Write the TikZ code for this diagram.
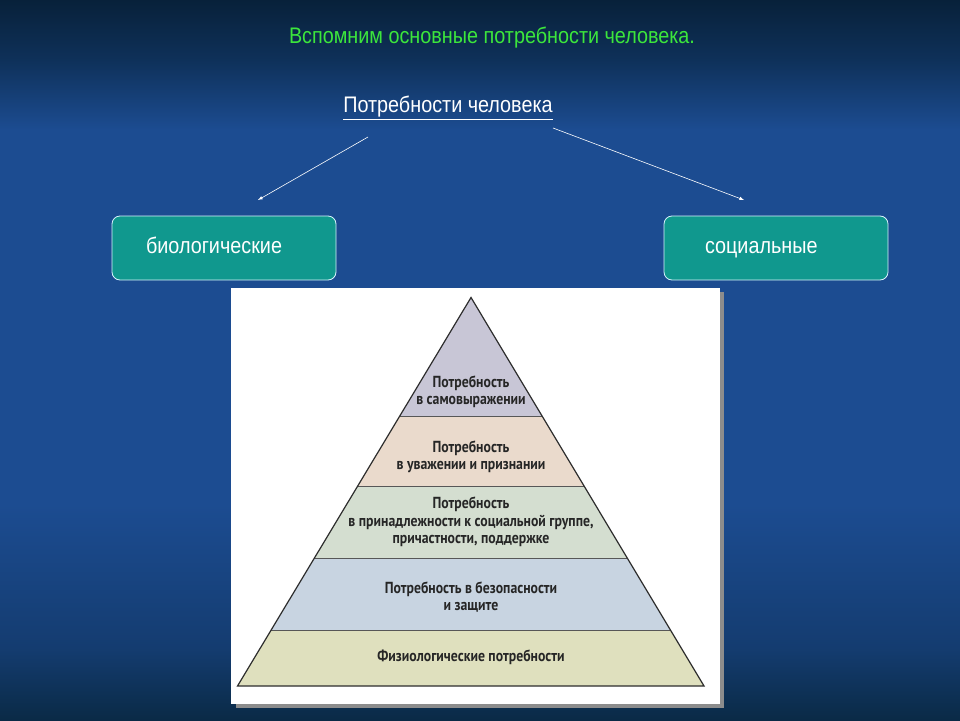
\documentclass[tikz,border=0pt]{standalone}
\usepackage{fontspec}
\setmainfont{Liberation Sans}
\newfontfamily\slidefont[FakeStretch=0.88]{Liberation Sans}
\newfontfamily\pyrfont[FakeStretch=0.86]{PT Sans}
\usetikzlibrary{shapes,arrows,positioning,calc}
\definecolor{bgtop}{RGB}{8, 33, 58}
\definecolor{bgtop2}{RGB}{14, 48, 88}
\definecolor{bgblue}{RGB}{28, 76, 145}
\definecolor{bgbot2}{RGB}{20, 60, 112}
\definecolor{bgbot}{RGB}{10, 42, 70}
\definecolor{titlegreen}{RGB}{60, 230, 60}
\definecolor{teal}{RGB}{16, 152, 142}
\definecolor{lay1}{RGB}{200, 198, 214}
\definecolor{lay2}{RGB}{234, 218, 204}
\definecolor{lay3}{RGB}{212, 222, 208}
\definecolor{lay4}{RGB}{200, 212, 225}
\definecolor{lay5}{RGB}{223, 224, 190}
\definecolor{pyrline}{RGB}{45, 45, 45}
\pgfdeclareverticalshading{slidebg}{100bp}{color(0bp)=(bgbot); color(25bp)=(bgbot); color(30bp)=(bgbot2); color(40bp)=(bgblue); color(66bp)=(bgblue); color(71bp)=(bgtop2); color(75bp)=(bgtop); color(100bp)=(bgtop)}
\tikzstyle{headline} = [text=titlegreen, font=\slidefont\fontsize{22.5}{26}\selectfont, inner sep=0pt]
\tikzstyle{topic} = [text=white, font=\slidefont\fontsize{22.5}{26}\selectfont, inner sep=0pt]
\tikzstyle{kind} = [rectangle, rounded corners=8pt, draw=white!85!cyan, line width=0.8pt, fill=teal, text=white, font=\slidefont\fontsize{22.5}{26}\selectfont, align=left, minimum width=224pt, minimum height=64pt, text height=15pt, text depth=5pt]
\tikzstyle{level} = [text=black!85, font=\pyrfont\bfseries\fontsize{16}{17.5}\selectfont, align=center, inner sep=0pt]
\tikzstyle{tedge}  = [draw, white, line width=0.6pt, >=latex, ->]

\begin{document}
\begin{tikzpicture}[x=1pt, y=-1pt]

% background =============================
\shade[shading=slidebg] (0,0) rectangle (960,720);
\useasboundingbox (0,0) rectangle (960,720);

% titles
\node[headline] (head) at (492,38) {Вспомним основные потребности человека.};
\node[topic] (needs) at (448,108) {\underline{Потребности человека}};

% two kinds
\node[kind, text width=156pt, inner xsep=34pt] (bio) at (224,248) {биологические};
\node[kind, text width=142pt, inner xsep=41pt] (soc) at (776,248) {социальные};

\coordinate (bio tip) at (258,200);
\coordinate (soc tip) at (744,200);
\coordinate (bio start) at (368,137);
\coordinate (soc start) at (553,128);

% panel with pyramid =====================
\fill[black!45] (236,292) rectangle (724,708);
\fill[white] (231,288) rectangle (720,704);

\coordinate (apex) at (471,297.5);
\coordinate (bl) at (237.5,686);
\coordinate (br) at (704,686);
\foreach \t [count=\i] in {0.307,0.487,0.671,0.858} {
  \coordinate (l\i) at ($(apex)!\t!(bl)$);
  \coordinate (r\i) at ($(apex)!\t!(br)$);
}
\fill[lay1] (apex) -- (l1) -- (r1) -- cycle;
\fill[lay2] (l1) -- (l2) -- (r2) -- (r1) -- cycle;
\fill[lay3] (l2) -- (l3) -- (r3) -- (r2) -- cycle;
\fill[lay4] (l3) -- (l4) -- (r4) -- (r3) -- cycle;
\fill[lay5] (l4) -- (bl) -- (br) -- (r4) -- cycle;
\foreach \i in {1,...,4} \draw[pyrline!80, line width=1.3pt] (l\i) -- (r\i);
\draw[pyrline, line width=1.2pt, line join=miter] (apex) -- (bl) -- (br) -- cycle;

\node[level] (self) at (471,392) {Потребность\\в самовыражении};
\node[level] (esteem) at (471,457) {Потребность\\в уважении и признании};
\node[level] (belong) at (471,522) {Потребность\\в принадлежности к социальной группе,\\причастности, поддержке};
\node[level] (safety) at (471,597) {Потребность в безопасности\\и защите};
\node[level] (body) at (471,657) {Физиологические потребности};

%edges
\path[tedge] (bio start) -- (bio tip);
\path[tedge] (soc start) -- (soc tip);

\end{tikzpicture}
\end{document}
